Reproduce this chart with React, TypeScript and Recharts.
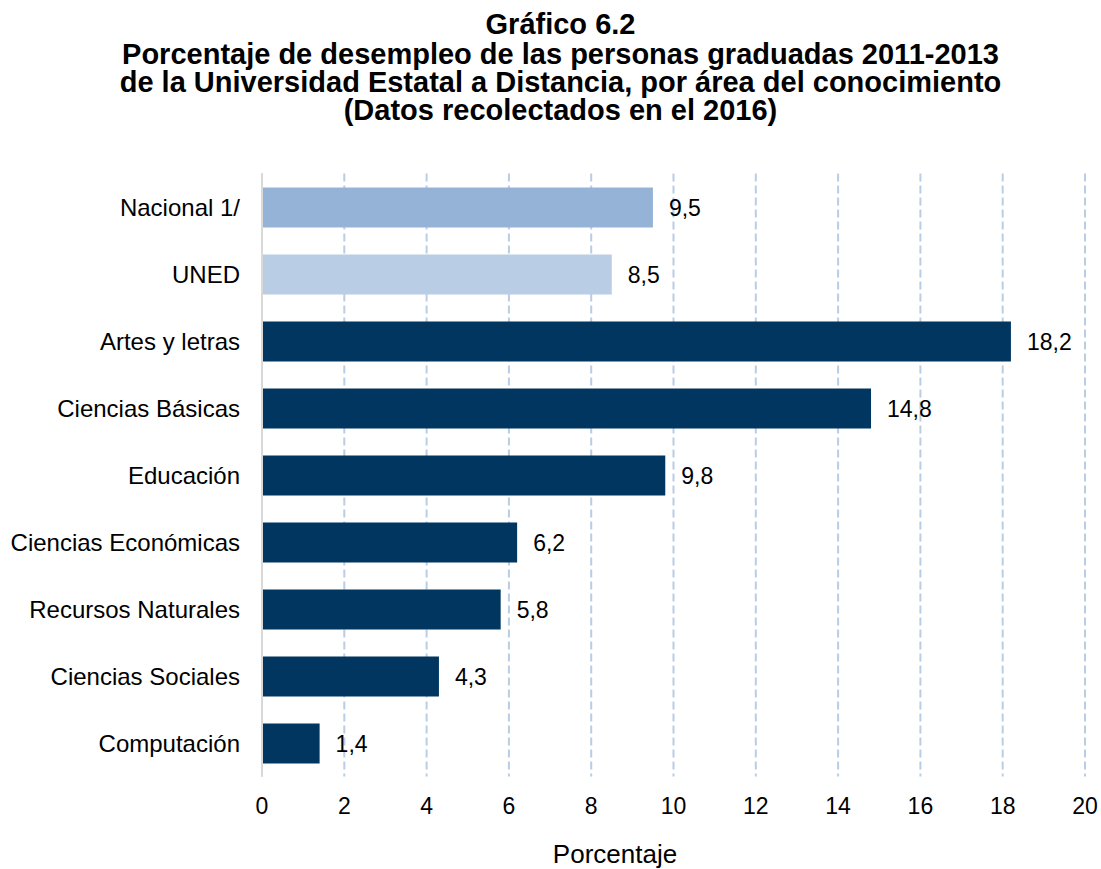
import React from "react";
import { BarChart, Bar, XAxis, YAxis, CartesianGrid, Cell, LabelList } from "recharts";

const categories = [
  "Nacional 1/",
  "UNED",
  "Artes y letras",
  "Ciencias Básicas",
  "Educación",
  "Ciencias Económicas",
  "Recursos Naturales",
  "Ciencias Sociales",
  "Computación",
];
const values = [9.5, 8.5, 18.2, 14.8, 9.8, 6.2, 5.8, 4.3, 1.4];
const barColors = ["#95b3d7", "#b9cde5", "#003660", "#003660", "#003660", "#003660", "#003660", "#003660", "#003660"];
const xTicks = [0, 2, 4, 6, 8, 10, 12, 14, 16, 18, 20];
const titleLines = [
  "Gráfico 6.2",
  "Porcentaje de desempleo de las personas graduadas 2011-2013",
  "de la Universidad Estatal a Distancia, por área del conocimiento",
  "(Datos recolectados en el 2016)",
];
const titleBaselines = [35, 65, 93, 121];
const xAxisTitle = "Porcentaje";

const data = categories.map((c, i) => ({ name: c, value: values[i], color: barColors[i] }));

const FONT = "'Liberation Sans', Arial, Helvetica, sans-serif";
const TITLE_SIZE = 29;
const TITLE_LH = 27;
const TITLE_BASE_OFFSET = (TITLE_LH - 1.117 * TITLE_SIZE) / 2 + 0.905 * TITLE_SIZE;

export default function App() {
  return (
    <div style={{ position: "relative", width: 1101, height: 869, background: "#fff", fontFamily: FONT, overflow: "hidden" }}>
      <style>{"body{margin:0;}"}</style>
      {titleLines.map((t, i) => (
        <div
          key={i}
          style={{
            position: "absolute",
            left: 60.5,
            width: 1000,
            top: titleBaselines[i] - TITLE_BASE_OFFSET,
            textAlign: "center",
            fontWeight: "bold",
            fontSize: TITLE_SIZE,
            lineHeight: TITLE_LH + "px",
            color: "#000",
            whiteSpace: "nowrap",
          }}
        >
          {t}
        </div>
      ))}
      <BarChart
        width={1101}
        height={869}
        data={data}
        layout="vertical"
        margin={{ top: 173.5, right: 16, bottom: 0, left: 0 }}
        barCategoryGap={27}
      >
        <CartesianGrid horizontal={false} vertical={true} stroke="#b9cde5" strokeWidth={2} strokeDasharray="8 4" />
        <XAxis
          type="number"
          domain={[0, 20]}
          ticks={xTicks}
          axisLine={false}
          tickLine={false}
          tickSize={0}
          tickMargin={21}
          height={92.5}
          interval={0}
          tick={{ fontSize: 23, fill: "#000", fontFamily: FONT }}
        />
        <YAxis
          type="category"
          dataKey="name"
          width={262}
          axisLine={{ stroke: "#d9d9d9", strokeWidth: 2 }}
          tickLine={false}
          tickSize={0}
          tickMargin={22}
          interval={0}
          tick={{ fontSize: 24, fill: "#000", fontFamily: FONT }}
        />
        <Bar dataKey="value" barSize={40} isAnimationActive={false}>
          {data.map((d, i) => (
            <Cell key={i} fill={d.color} />
          ))}
          <LabelList
            dataKey="value"
            position="right"
            offset={16}
            formatter={(v: any) => String(v).replace(".", ",")}
            style={{ fontSize: 23, fill: "#000", fontFamily: FONT }}
          />
        </Bar>
      </BarChart>
      <div style={{ position: "absolute", left: 415, width: 400, top: 841, textAlign: "center", fontSize: 26, lineHeight: "26px", color: "#000", whiteSpace: "nowrap" }}>
        {xAxisTitle}
      </div>
    </div>
  );
}
